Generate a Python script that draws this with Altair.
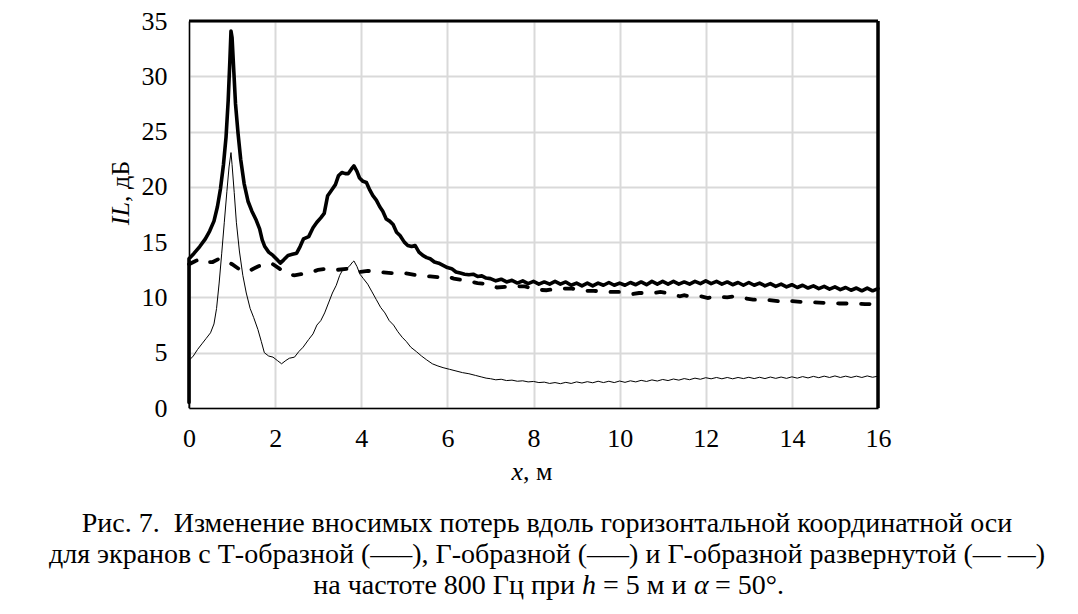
import altair as alt
import pandas as pd

# ---------------- data ----------------
x_ticks = [0, 2, 4, 6, 8, 10, 12, 14, 16]
y_ticks = [0, 5, 10, 15, 20, 25, 30, 35]

# common tail abscissae (x = 7 ... 16)
tail_x = [7.0, 7.125, 7.25, 7.375, 7.5, 7.625, 7.75, 7.875,
          8.0, 8.125, 8.25, 8.375, 8.5, 8.625, 8.75, 8.875,
          9.0, 9.125, 9.25, 9.375, 9.5, 9.625, 9.75, 9.875,
          10.0, 10.125, 10.25, 10.375, 10.5, 10.625, 10.75, 10.875,
          11.0, 11.125, 11.25, 11.375, 11.5, 11.625, 11.75, 11.875,
          12.0, 12.125, 12.25, 12.375, 12.5, 12.625, 12.75, 12.875,
          13.0, 13.125, 13.25, 13.375, 13.5, 13.625, 13.75, 13.875,
          14.0, 14.125, 14.25, 14.375, 14.5, 14.625, 14.75, 14.875,
          15.0, 15.125, 15.25, 15.375, 15.5, 15.625, 15.75, 15.875,
          16.0]

# T-shaped screen (thick solid)
t_x_head = [0, 0, 0.12, 0.25, 0.38, 0.48, 0.58, 0.66, 0.73, 0.8,
            0.86, 0.91, 0.95, 0.975, 1.0, 1.04, 1.08, 1.14, 1.2, 1.28,
            1.37, 1.46, 1.56, 1.64, 1.7, 1.76, 1.85, 1.95, 2.05, 2.12,
            2.2, 2.3, 2.4, 2.5, 2.58, 2.66, 2.78, 2.88, 2.97, 3.06,
            3.14, 3.22, 3.31, 3.4, 3.47, 3.55, 3.63, 3.7, 3.77, 3.83,
            3.9, 3.96, 4.04, 4.12, 4.2, 4.27, 4.35, 4.43, 4.5, 4.58,
            4.66, 4.74, 4.82, 4.9, 5.0, 5.08, 5.17, 5.25, 5.34, 5.43,
            5.52, 5.6, 5.7, 5.8, 5.9, 6.0, 6.1, 6.2, 6.3, 6.4,
            6.5, 6.6, 6.7, 6.8, 6.9]
t_y_head = [0.5, 13.5, 14.0, 14.6, 15.3, 16.0, 16.9, 18.2, 19.8, 22.0,
            24.5, 27.8, 31.5, 34.1, 33.5, 30.5, 27.5, 24.8, 22.5, 20.3,
            18.7, 17.8, 17.0, 16.2, 15.2, 14.6, 14.1, 13.8, 13.4, 13.1,
            13.4, 13.8, 13.9, 14.0, 14.6, 15.3, 15.5, 16.3, 16.8, 17.2,
            17.6, 19.2, 19.7, 20.2, 21.0, 21.3, 21.2, 21.2, 21.6, 21.9,
            21.4, 20.8, 20.5, 20.4, 19.7, 19.2, 18.8, 18.2, 17.8, 17.1,
            16.9, 16.6, 15.9, 15.6, 15.0, 14.7, 14.6, 14.7, 14.1, 13.8,
            13.6, 13.5, 13.2, 13.1, 12.9, 12.7, 12.6, 12.3, 12.2, 12.1,
            12.05, 12.1, 11.9, 11.95, 11.75]
t_y_tail = [11.7, 11.5, 11.65, 11.4, 11.55, 11.3, 11.5, 11.25,
            11.45, 11.2, 11.4, 11.2, 11.45, 11.2, 11.4, 11.1,
            11.3, 11.05, 11.3, 11.05, 11.3, 11.1, 11.35, 11.1,
            11.3, 11.1, 11.35, 11.15, 11.4, 11.15, 11.45, 11.2,
            11.45, 11.2, 11.45, 11.2, 11.4, 11.2, 11.45, 11.25,
            11.5, 11.25, 11.45, 11.2, 11.4, 11.15, 11.35, 11.1,
            11.35, 11.1, 11.3, 11.05, 11.25, 11.0, 11.2, 10.95,
            11.15, 10.9, 11.1, 10.85, 11.05, 10.8, 11.0, 10.75,
            10.95, 10.7, 10.9, 10.65, 10.85, 10.6, 10.85, 10.6,
            10.8]

# Г-shaped screen (thin solid)
g_x_head = [0, 0, 0.1, 0.2, 0.3, 0.4, 0.5, 0.58, 0.64, 0.7,
            0.76, 0.82, 0.88, 0.93, 0.975, 1.0, 1.05, 1.1, 1.17, 1.25,
            1.33, 1.42, 1.5, 1.6, 1.68, 1.75, 1.85, 1.95, 2.05, 2.15,
            2.25, 2.33, 2.45, 2.55, 2.65, 2.78, 2.88, 2.97, 3.06, 3.15,
            3.24, 3.33, 3.42, 3.5, 3.57, 3.65, 3.72, 3.8, 3.83, 3.9,
            3.97, 4.05, 4.15, 4.25, 4.35, 4.45, 4.55, 4.65, 4.75, 4.85,
            4.95, 5.05, 5.15, 5.28, 5.4, 5.52, 5.65, 5.78, 5.9, 6.05,
            6.2, 6.35, 6.5, 6.65, 6.8, 6.9]
g_y_head = [0.0, 4.3, 4.7, 5.3, 5.8, 6.3, 6.8, 7.6, 9.0, 11.3,
            14.0, 16.8, 19.6, 21.8, 23.1, 22.0, 19.5, 16.8, 14.2, 12.0,
            10.4, 9.0, 8.2, 7.1, 6.0, 5.0, 4.7, 4.6, 4.3, 4.0,
            4.3, 4.5, 4.6, 5.1, 5.5, 6.2, 6.7, 7.5, 7.9, 8.6,
            9.5, 10.4, 11.1, 12.0, 12.5, 12.6, 12.8, 13.2, 13.3, 12.8,
            12.1, 11.7, 11.2, 10.5, 9.8, 9.1, 8.6, 7.9, 7.5, 6.9,
            6.4, 6.0, 5.5, 5.1, 4.7, 4.35, 4.0, 3.8, 3.65, 3.5,
            3.35, 3.2, 3.1, 2.95, 2.8, 2.7]
g_y_tail = [2.65, 2.55, 2.6, 2.48, 2.52, 2.42, 2.46, 2.36,
            2.4, 2.3, 2.34, 2.22, 2.3, 2.2, 2.32, 2.22,
            2.36, 2.26, 2.38, 2.28, 2.42, 2.3, 2.42, 2.3,
            2.44, 2.32, 2.46, 2.36, 2.5, 2.4, 2.54, 2.44,
            2.58, 2.48, 2.62, 2.52, 2.66, 2.56, 2.7, 2.6,
            2.74, 2.64, 2.76, 2.64, 2.76, 2.64, 2.76, 2.66,
            2.78, 2.66, 2.78, 2.66, 2.8, 2.68, 2.8, 2.68,
            2.82, 2.7, 2.84, 2.72, 2.86, 2.74, 2.88, 2.76,
            2.9, 2.76, 2.88, 2.76, 2.88, 2.76, 2.9, 2.78,
            2.88]

# Г-shaped unfolded screen (thick dashed)
d_x = [0.0, 0.15, 0.3, 0.45, 0.55, 0.7, 0.85, 1.0,
       1.15, 1.3, 1.45, 1.6, 1.8, 1.95, 2.1, 2.3, 2.45, 2.6,
       2.8, 3.0, 3.2, 3.45, 3.7, 3.95, 4.15, 4.4, 4.7, 5.0,
       5.3, 5.6, 5.85, 6.0, 6.15, 6.45, 6.7, 6.95, 7.15, 7.5,
       7.8, 8.05, 8.3, 8.6, 8.9, 9.1, 9.4, 9.7, 10.0, 10.3,
       10.45, 10.8, 10.95, 11.1, 11.4, 11.5, 11.6, 11.9, 12.05, 12.2,
       12.5, 12.65, 12.8, 13.1, 13.4, 13.7, 13.8, 13.9, 14.2, 14.5,
       14.8, 15.1, 15.4, 15.7, 16.0]
d_y = [13.0, 13.3, 13.5, 13.2, 13.2, 13.5, 13.3, 13.0,
       12.6, 12.3, 12.5, 12.8, 13.1, 13.0, 12.6, 12.1, 12.0, 12.1,
       12.2, 12.5, 12.6, 12.5, 12.6, 12.3, 12.4, 12.3, 12.2, 12.2,
       12.0, 11.9, 11.8, 11.9, 11.7, 11.5, 11.3, 11.2, 10.9, 11.0,
       11.0, 10.7, 10.65, 10.8, 10.8, 10.6, 10.6, 10.5, 10.5, 10.3,
       10.4, 10.4, 10.5, 10.4, 10.1, 10.2, 10.1, 10.1, 9.95, 10.1,
       10.0, 10.1, 10.0, 9.8, 9.8, 9.65, 9.75, 9.7, 9.6, 9.55,
       9.5, 9.45, 9.45, 9.4, 9.4]

NB = "\u00a0"
caption_12 = ("Рис. 7." + NB + " Изменение вносимых потерь вдоль горизонтальной координатной оси\n"
              "для экранов с Т-образной (—–), Г-образной (–––) и Г-образной развернутой (— —)")
# third caption line, split where the letters are italic
cap3_parts = ["на частоте 800 Гц при", "h", "= 5 м и", "α", "= 50°."]
cap3_italic = [False, True, False, True, False]

# ---------------- chart ----------------
W, H = 689, 387
FONT = "Liberation Serif"
CAP_FS = 28


def frame(xs, ys):
    return pd.DataFrame({"x": xs, "y": ys, "i": list(range(len(xs)))})


thick_df = frame(t_x_head + tail_x, t_y_head + t_y_tail)
thin_df = frame(g_x_head + tail_x, g_y_head + g_y_tail)
dash_df = frame(d_x, d_y)

xenc = alt.X("x:Q", scale=alt.Scale(domain=[0, 16], nice=False),
             axis=alt.Axis(values=x_ticks, title=None, grid=True, ticks=False,
                           labelPadding=17, labelFlush=False))
yenc = alt.Y("y:Q", scale=alt.Scale(domain=[0, 35], nice=False),
             axis=alt.Axis(values=y_ticks, title=None, grid=True, ticks=False,
                           labelPadding=22))
order = alt.Order("i:Q")

thin = alt.Chart(thin_df).mark_line(color="black", strokeWidth=1).encode(
    x=xenc, y=yenc, order=order)
dashed = alt.Chart(dash_df).mark_line(
    color="black", strokeWidth=3.8, strokeDash=[8.5, 14.5], strokeCap="round"
).encode(x=xenc, y=yenc, order=order)
thick = alt.Chart(thick_df).mark_line(
    color="black", strokeWidth=3.6, strokeJoin="round", strokeCap="round"
).encode(x=xenc, y=yenc, order=order)

one = pd.DataFrame({"k": [0]})
top_rule = alt.Chart(one).mark_rule(color="black", strokeWidth=3).encode(
    x=alt.value(0), x2=alt.value(W), y=alt.value(0))
right_rule = alt.Chart(one).mark_rule(color="black", strokeWidth=3.5).encode(
    x=alt.value(W), y=alt.value(0), y2=alt.value(H))


def label(txt, x, y, align, italic=False, angle=0, baseline="alphabetic", fs=26):
    kw = dict(font=FONT, fontSize=fs, align=align, baseline=baseline, color="black")
    if italic:
        kw["fontStyle"] = "italic"
    if angle:
        kw["angle"] = angle
    return alt.Chart(pd.DataFrame({"t": [txt]})).mark_text(**kw).encode(
        x=alt.value(x), y=alt.value(y), text="t:N")


cap12 = alt.Chart(pd.DataFrame({"t": [caption_12]})).mark_text(
    font=FONT, fontSize=CAP_FS, lineBreak="\n", lineHeight=31, align="center",
    baseline="alphabetic", color="black"
).encode(x=alt.value(358), y=alt.value(511), text="t:N")

# anchors of the third caption line pieces (gaps stand for the spaces)
cap3_x = [386, 393, 414, 505, 526]
cap3_align = ["right", "left", "left", "left", "left"]
cap3 = [label(t, x, 573, a, it, fs=CAP_FS)
        for t, x, a, it in zip(cap3_parts, cap3_x, cap3_align, cap3_italic)]

ytitle = [label("IL", -68, 181, "right", True, 270, "middle"),
          label(", дБ", -68, 181, "left", False, 270, "middle")]
xtitle = [label("x", 334, 459, "right", True),
          label(", м", 334, 459, "left")]

chart = alt.layer(
    thin, dashed, thick, top_rule, right_rule, cap12, *cap3, *ytitle, *xtitle
).properties(
    width=W, height=H,
    autosize=alt.AutoSizeParams(type="none"),
    padding={"left": 181, "top": 13, "right": 192, "bottom": 197},
    background="white",
).configure_view(
    stroke=None
).configure_axis(
    labelFont=FONT, labelFontSize=26, labelColor="black",
    domainColor="black", domainWidth=1.5,
    gridColor="#d9d9d9", gridWidth=2,
)

chart.save("out.html", embed_options={"renderer": "svg", "actions": False})
